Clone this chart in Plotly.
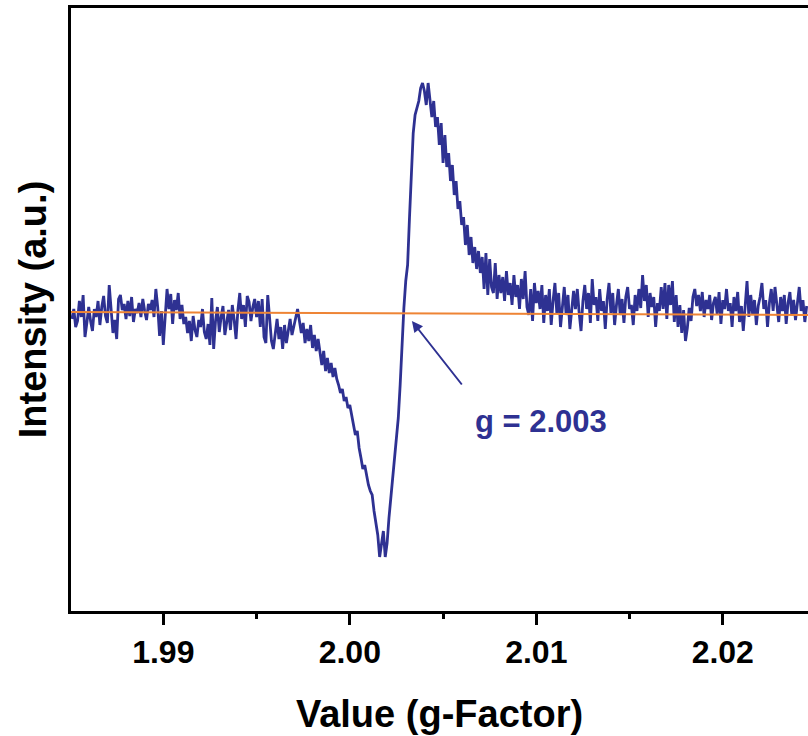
import numpy as np
import plotly.graph_objects as go

# ---- data ----
G_START = 1.9851      # g-factor of first sample
G_STEP = 0.0001       # sampling interval of spectrum

intensity = [
    -6, 4, -14, -8, 12, -4, 18, -24, -10, 6, -8, -18, 4, -4, 12, -12, 6, 17, -3, -10,
    28, 8, -20, -7, -26, 14, 18, 3, 9, -6, 12, -3, 16, -9, 4, 0, 10, -4, 14, 2,
    -7, 9, 3, 13, -4, 24, 6, -23, 2, -32, -8, 24, 4, 19, -11, 13, 3, 20, -6, 8,
    -11, -4, -20, -8, -28, -3, -17, -24, -7, -14, 4, -19, -26, -11, -32, 15, -36, -8, 6, -19,
    -4, 7, -22, -11, 3, -17, 8, -7, -26, 3, 20, -6, 8, -14, 17, 11, -8, 6, 14, -4,
    12, -14, 14, -24, -30, 18, -10, -28, -36, -20, -6, -26, -14, -36, -12, -30, -16,
    -6, -22, -12, -4, 4, -8, -20, -10, -30, -16, -28, -12, -35, -22, -38, -26, -40,
    -52, -38, -58, -45, -60, -50, -64, -55, -66, -72, -80, -76, -88, -84, -95, -92, -102,
    -110, -122, -118, -135, -145, -156, -152, -164, -172, -178,
    -182, -198, -210, -222, -244, -232, -218, -244, -230, -205,
    -185, -172, -150, -128, -105, -72, -25, 5, 32, 48,
    95, 145, 180, 198, 205, 212, 225, 230, 222, 208,
    230, 214, 196, 212, 186, 196, 168, 190, 150, 178,
    146, 160, 132, 148, 118, 132, 104, 112, 88, 96,
    68, 88, 58, 76, 50, 66, 44, 62, 40, 56,
    24, 60, 18, 54, 26, 20, 50, 14, 38, 20,
    36, 12, 42, 18, 30, 8, 38, 16, 28, 4, 34, 14, 42, 6, -2, 24, -8, 30, 10, 22,
    4, 28, -10, 18, 2, 24, -12, 12, 30, 0, 20, -14, 10, 26, -2, 18, -16, 6, 22, 4,
    24, 0, -18, 12, 28, 4, 20, -10, 34, 8, 16, -8, 24, 2, 12, -16, 14, 30, 0, 20,
    -12, 8, 24, -2, 14, -10, 16, 26, 4,
    8, -12, 18, 2, 24, 5, 38, 12, 28, -4, 20, 6, 16, -14, 10, 2, 26, 4, 30, -6,
    28, 8, 32, -9, 18, -14, 8, -20, 3, -28, -15, 5, -8, 16, 24, 7, 18, 2, 21, -4,
    13, 4, 18, -7, 10, 16, -1, 21, -11, 13, 4, 24, 2, 10, -14, 16, 2, 21, -9, 7,
    -18, 10, 32, -4, 18, -1, 13, -12, 7, 16, 30, 4, 13, -14, 10, 24, 2, 26, 7, -9,
    16, 2, 18, -11, 10, 21, -2, 13, -7, 10, 26, 2, 13, -9, 7,
]

ref_x = [1.98505, 2.02457]     # horizontal reference line (ends)
ref_y = [1, -2]

X_RANGE = [1.98505, 2.02457]
Y_RANGE = [-298, 305]
TICK_VALS = [1.99, 2.00, 2.01, 2.02]
TICK_TEXT = ["1.99", "2.00", "2.01", "2.02"]

g_label = "g = 2.003"
arrow_head = (2.00333, -8)
arrow_tail = (2.00607, -73)
label_pos = (2.01025, -108)

g = G_START + G_STEP * np.arange(len(intensity))

BLUE = "#2E3192"
ORANGE = "#EE8435"
FONT = "Liberation Sans, Arial, sans-serif"

fig = go.Figure()
fig.add_trace(go.Scatter(x=g, y=intensity, mode="lines",
                         line=dict(color=BLUE, width=2.8), showlegend=False))
fig.add_trace(go.Scatter(x=ref_x, y=ref_y, mode="lines",
                         line=dict(color=ORANGE, width=2), showlegend=False))

fig.add_annotation(x=arrow_head[0], y=arrow_head[1], ax=arrow_tail[0], ay=arrow_tail[1],
                   xref="x", yref="y", axref="x", ayref="y", text="",
                   showarrow=True, arrowhead=2, arrowsize=1.1, arrowwidth=2,
                   arrowcolor=BLUE)
fig.add_annotation(x=label_pos[0], y=label_pos[1], xref="x", yref="y",
                   text=g_label, showarrow=False, xanchor="center", yanchor="middle",
                   font=dict(family=FONT, size=31, color=BLUE, weight="bold"))

fig.update_layout(
    width=808, height=736,
    margin=dict(l=71, r=0, t=8, b=125),
    paper_bgcolor="white", plot_bgcolor="white",
    xaxis=dict(
        range=X_RANGE, tickvals=TICK_VALS, ticktext=TICK_TEXT,
        showgrid=False, zeroline=False,
        showline=True, linecolor="black", linewidth=2.5, mirror=True,
        ticks="outside", ticklen=11, tickwidth=2.5, tickcolor="black",
        tickfont=dict(family=FONT, size=32, color="black", weight="bold"),
        minor=dict(dtick=0.005, tick0=1.99, ticks="outside", ticklen=5,
                   tickwidth=2.5, tickcolor="black", showgrid=False),
        title=dict(text="Value (g-Factor)", standoff=32,
                   font=dict(family=FONT, size=38, color="black", weight="bold")),
    ),
    yaxis=dict(
        range=Y_RANGE, showgrid=False, zeroline=False,
        showline=True, linecolor="black", linewidth=2.5,
        showticklabels=False, ticks="",
        title=dict(text="Intensity (a.u.)", standoff=10,
                   font=dict(family=FONT, size=38, color="black", weight="bold")),
    ),
)

fig.write_html("out.html")
